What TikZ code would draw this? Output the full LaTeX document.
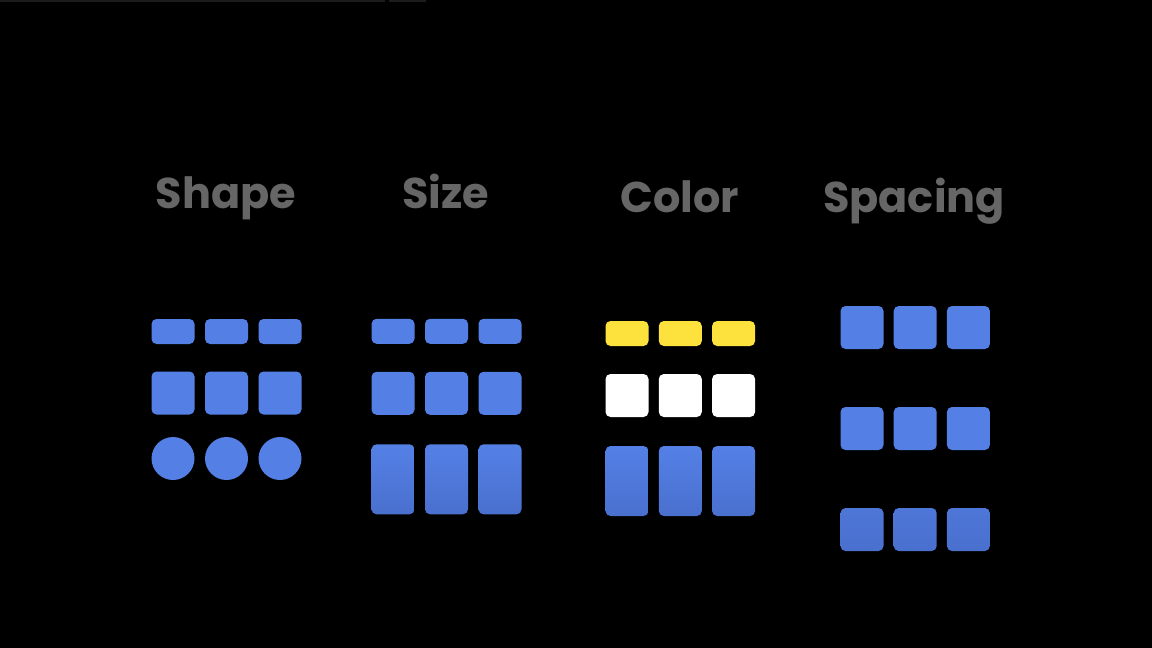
\documentclass[tikz,border=0pt]{standalone}
\usepackage{fontspec}
\setmainfont{Poppins}
\usepackage{tikz}
\usetikzlibrary{positioning}
\definecolor{tileblue}{HTML}{5480E6}
\definecolor{tiledeep}{HTML}{4A70CE}
\definecolor{tileyellow}{HTML}{FDE23E}
\definecolor{titlegray}{HTML}{666666}
\definecolor{barline}{HTML}{1C1C1C}

\begin{document}
\begin{tikzpicture}[
  x=0.5pt, y=-0.5pt,
  title/.style={anchor=base, inner sep=0pt, text=titlegray,
                font=\fontsize{21.5}{25}\selectfont\bfseries},
  tile/.style={rectangle, rounded corners=2.5pt, inner sep=0pt,
               fill=tileblue, minimum width=21.5pt},
  flat/.style={tile, minimum height=12.5pt},
  square/.style={tile, minimum height=21.5pt},
  tall/.style={tile, fill=none, minimum height=35pt,
               top color=tileblue, bottom color=tiledeep},
  dot/.style={circle, inner sep=0pt, fill=tileblue, minimum size=21.5pt}
]

% background and top bar
\fill[black] (0,0) rectangle (1152,648);
\fill[barline] (0,0) rectangle (385,2);
\fill[barline] (389,0) rectangle (426,2);

% titles
\node[title] (shape) at (226,208) {Shape};
\node[title] (size) at (446,208) {Size};
\node[title] (color) at (680,212) {Color};
\node[title] (spacing) at (914,212) {Spacing};

% shape column
\foreach \i in {1,2,3} {
  \node[flat] (shape-a\i) at ({173+53.5*(\i-1)},331.5) {};
  \node[square] (shape-b\i) at ({173+53.5*(\i-1)},393) {};
  \node[dot] (shape-c\i) at ({173+53.5*(\i-1)},458.5) {};
}

% size column
\foreach \i in {1,2,3} {
  \node[flat] (size-a\i) at ({393+53.5*(\i-1)},331.3) {};
  \node[square] (size-b\i) at ({393+53.5*(\i-1)},393.3) {};
  \node[tall] (size-c\i) at ({393+53.5*(\i-1)},479.3) {};
}

% color column
\foreach \i in {1,2,3} {
  \node[flat, fill=tileyellow] (color-a\i) at ({627+53.3*(\i-1)},333.5) {};
  \node[square, fill=white] (color-b\i) at ({627+53.3*(\i-1)},395.5) {};
  \node[tall] (color-c\i) at ({627+53.3*(\i-1)},481) {};
}

% spacing column
\foreach \i in {1,2,3} {
  \node[square] (spacing-a\i) at ({862+53.2*(\i-1)},327.5) {};
  \node[square] (spacing-b\i) at ({862+53.2*(\i-1)},428.5) {};
  \node[square, fill=none, top color=tileblue!40!tiledeep,
        bottom color=tiledeep] (spacing-c\i) at ({862+53.2*(\i-1)},529.5) {};
}

\end{tikzpicture}
\end{document}
